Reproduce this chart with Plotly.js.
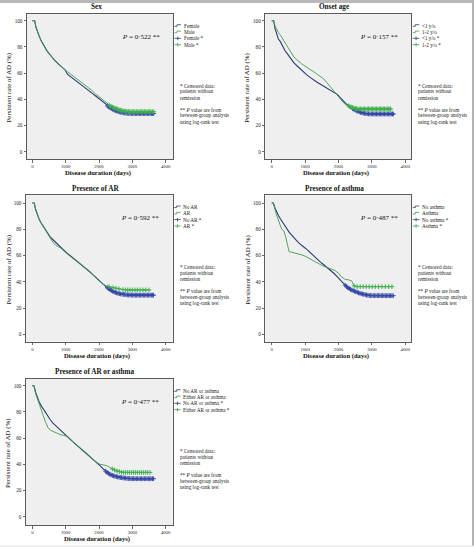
<!DOCTYPE html>
<html><head><meta charset="utf-8">
<script src="https://cdn.plot.ly/plotly-3.0.1.min.js"></script>
<style>html,body{margin:0;padding:0;background:#fff}#chart{width:474px;height:547px}</style>
</head><body><div id="chart"></div>
<script>
// ---------------- DATA ----------------
const panelTitles = ['Sex', 'Onset age', 'Presence of AR', 'Presence of asthma', 'Presence of AR or asthma'];
const groupNames = [['Female', 'Male'], ['&lt;1 y/o', '1-2 y/o'], ['No AR', 'AR'], ['No asthma', 'Asthma'], ['No AR or asthma', 'Either AR or asthma']];
const pValues = ['0·522', '0·157', '0·592', '0·487', '0·477'];
const xTicks = [0, 1000, 2000, 3000, 4000];
const yTicks = [0, 20, 40, 60, 80, 100];
const noteLines1 = ['* Censored data:', 'patients without', 'remission'];
const noteLines2 = ['** <i>P</i> value are from', 'between-group analysis', 'using log-rank test'];

// Panel 1: Sex
const sexFemaleX = [0,70,110,160,210,260,320,380,440,500,580,660,740,820,900,980,1060,1140,1220,1300,1400,1500,1600,1700,1800,1900,2000,2100,2200,2300,2400,2500,2600,2700,2800,2900,3000,3640];
const sexFemaleY = [100,100,95,91,88,85,82,79,77,75,72,70,68,66,64,62.5,59,57.5,56,54.5,52.5,50.5,48.5,46.5,44.5,42.5,40.5,38.5,36,34,32.5,31.2,30.4,29.8,29.4,29.2,29.1,29.1];
const sexMaleX = [0,70,110,160,210,260,320,380,440,500,580,660,740,820,900,980,1060,1140,1220,1300,1400,1500,1600,1700,1800,1900,2000,2100,2200,2300,2400,2500,2600,2700,2800,2900,3000,3640];
const sexMaleY = [100,100,95,91,88,85,82,79,77,75,72,70,68,66,64,62.5,61,59.5,58,56.5,54.5,52.5,50.5,48.5,46.5,44,42,40,37.5,35.5,34,33,32,31.2,30.8,30.6,30.5,30.5];
const sexFemaleCens = [2250,2290,2330,2370,2410,2450,2490,2530,2570,2610,2650,2690,2730,2770,2810,2850,2890,2930,2970,3010,3050,3090,3130,3170,3210,3250,3290,3330,3370,3410,3450,3490,3530,3570,3610,3640];
const sexMaleCens = [2320,2360,2400,2440,2480,2520,2560,2600,2640,2680,2720,2760,2800,2840,2880,2920,2960,3000,3040,3080,3120,3160,3200,3240,3280,3320,3360,3400,3440,3480,3520,3560,3600,3640];

// Panel 2: Onset age
const ageLt1X = [0,60,100,150,200,260,330,400,460,530,600,660,740,820,900,960,1060,1160,1260,1360,1460,1560,1660,1760,1860,1960,2060,2160,2260,2360,2460,2560,2660,2760,2860,2960,3640];
const ageLt1Y = [100,100,94,89,86,84,80,77,75,72.5,70,68,66,64,62.5,61,58.5,56.5,54.5,53,51.5,50,48.5,47,45.5,43.8,41,38.2,35.8,33.8,32.3,31,30,29.3,29,28.8,28.8];
const age12X = [0,60,100,150,200,260,330,400,460,530,600,660,740,820,900,960,1060,1160,1260,1360,1460,1560,1660,1760,1860,1960,2060,2160,2260,2360,2460,2560,3560];
const age12Y = [100,100,96,93,91,89,86,83,80,77,74.5,72.5,70.5,68.5,67,66,64,62.5,61,59,57.5,55.5,52.5,49.5,46.5,43.5,40,37,35.5,34.2,33.3,32.6,32.6];
const ageLt1Cens = [2420,2460,2500,2540,2580,2620,2660,2700,2740,2780,2820,2860,2900,2940,2980,3020,3060,3100,3140,3180,3220,3260,3300,3340,3380,3420,3460,3500,3540,3580,3620,3640];
const age12Cens = [2300,2340,2380,2420,2460,2500,2540,2580,2620,2660,2700,2740,2780,2820,2860,2900,2940,2980,3020,3060,3100,3140,3180,3220,3260,3300,3340,3380,3420,3460,3500,3540,3560];

// Panel 3: Presence of AR
const arNoX = [0,60,100,150,200,260,330,400,470,540,620,700,780,860,940,1030,1130,1230,1330,1430,1530,1630,1730,1830,1930,2030,2130,2230,2330,2430,2530,2630,2730,2830,2930,3030,3630];
const arNoY = [100,100,95,91,88,85,82,79,76.5,74,72,70,68,66,64,62,60,58,56,54,52,50,47.5,45,42.5,40,37.8,35.8,34,32.5,31.5,30.8,30.4,30.1,29.9,29.8,29.8];
const arYesX = [0,60,100,150,200,260,330,400,470,540,620,700,780,860,940,1030,1130,1230,1330,1430,1530,1630,1730,1830,1930,2030,2130,2230,2330,2430,2530,2630,2730,2830,3500];
const arYesY = [100,100,95,91,88,85,82,79,76,73,70,68,67,65.5,63.5,61.5,59.5,57.5,55.5,53.5,51.5,49.5,47.5,45,42.5,40,38,36.8,36,35.5,35,34.5,34,33.8,33.8];
const arNoCens = [2250,2290,2330,2370,2410,2450,2490,2530,2570,2610,2650,2690,2730,2770,2810,2850,2890,2930,2970,3010,3050,3090,3130,3170,3210,3250,3290,3330,3370,3410,3450,3490,3530,3570,3610,3630];
const arYesCens = [2300,2420,2510,2600,2720,2790,2860,2930,3000,3080,3150,3230,3320,3400,3500];

// Panel 4: Presence of asthma
const asNoX = [0,50,100,150,200,260,330,400,460,530,600,660,740,820,900,960,1060,1160,1260,1360,1460,1560,1660,1760,1860,1960,2060,2160,2260,2360,2460,2560,2660,2760,2860,2960,3640];
const asNoY = [100,100,96,93,90.5,88,85,82.5,80,77.5,75.5,73.5,71.5,69.5,67.5,66.5,64.5,62,59.5,57.5,55,53,51,48.5,46.5,44,41.5,38.5,35.8,34.2,33,32,31,30.4,29.8,29.5,29.4];
const asYesX = [0,50,120,180,240,300,360,420,480,520,600,700,800,900,1000,1100,1200,1300,1400,1500,1600,1700,1800,1900,2000,2100,2200,2300,2400,2460,2520,3600];
const asYesY = [100,100,93,88,84,80,79,74,68,63,62.5,62,61.5,60.5,59.5,58,56.5,55.5,54,52.5,51.5,50.5,49.5,48.5,46.5,43.5,41.8,41.5,40.5,37,36.3,36.3];
const asNoCens = [2200,2240,2280,2320,2360,2400,2440,2480,2520,2560,2600,2640,2680,2720,2760,2800,2840,2880,2920,2960,3000,3040,3080,3120,3160,3200,3240,3280,3320,3360,3400,3440,3480,3520,3560,3600,3640];
const asYesCens = [2470,2560,2650,2740,2830,2920,3010,3100,3200,3300,3400,3500,3600];

// Panel 5: Presence of AR or asthma
const anyNoX = [0,50,100,150,200,260,330,400,470,540,620,700,780,860,940,1030,1130,1230,1330,1430,1530,1630,1730,1830,1930,2030,2130,2230,2330,2430,2530,2630,2730,2830,2930,3030,3630];
const anyNoY = [100,100,95,91,88,85,82,79,76,74,71.5,69.5,67.5,65.5,63.8,62,59.5,57,54.7,52.5,50.5,48.3,46,43.7,41.5,39,36.4,34,32.3,31.2,30.5,30,29.6,29.3,29.1,29,29];
const anyYesX = [0,50,100,150,200,260,330,400,470,540,620,700,780,860,940,1030,1130,1230,1330,1430,1530,1630,1730,1830,1930,2030,2130,2230,2330,2430,2530,2630,2730,3530];
const anyYesY = [100,100,94,90,87,82,77,72,68,66,65,64,63,62.5,62,61.5,59,57,55,53,51,48.5,46,43.5,41.5,40,39.5,39,37.5,36,35,34.3,33.8,33.8];
const anyNoCens = [2200,2240,2280,2320,2360,2400,2440,2480,2520,2560,2600,2640,2680,2720,2760,2800,2840,2880,2920,2960,3000,3040,3080,3120,3160,3200,3240,3280,3320,3360,3400,3440,3480,3520,3560,3600,3630];
const anyYesCens = [2400,2470,2540,2610,2680,2740,2800,2860,2920,2980,3040,3100,3160,3220,3280,3340,3400,3460,3530];

const curvesX = [[sexFemaleX, sexMaleX], [ageLt1X, age12X], [arNoX, arYesX], [asNoX, asYesX], [anyNoX, anyYesX]];
const curvesY = [[sexFemaleY, sexMaleY], [ageLt1Y, age12Y], [arNoY, arYesY], [asNoY, asYesY], [anyNoY, anyYesY]];
const censTimes = [[sexFemaleCens, sexMaleCens], [ageLt1Cens, age12Cens], [arNoCens, arYesCens], [asNoCens, asYesCens], [anyNoCens, anyYesCens]];

// ---------------- STYLE / LAYOUT ----------------
const W = 474, H = 547;
const lineColors = ['#2a3b74', '#3f9d4d'];
const markColors = ['#3548a8', '#3fb04d'];
const serif = 'Liberation Serif, Times New Roman, serif';
const frames = [
  {l:27, r:173, t:14, b:159, x0:32.3, x4:165.7, y100:20.7, y0:151.7},
  {l:265.3, r:411.3, t:14, b:159, x0:271.7, x4:405.3, y100:20.7, y0:151.7},
  {l:26, r:172.7, t:195.3, b:341.7, x0:32.3, x4:165.7, y100:203, y0:334.3},
  {l:265.3, r:411.3, t:195.3, b:341.7, x0:271.7, x4:405.3, y100:203, y0:334.3},
  {l:26, r:172.7, t:379, b:525, x0:32.3, x4:165.7, y100:385.7, y0:516.7}
];
const px = v => v / W;
const py = v => 1 - v / H;

function stepAt(xs, ys, t) {
  // linear interpolation along the drawn curve so censor marks sit on it
  for (let i = 1; i < xs.length; i++) {
    if (t <= xs[i]) { const f = (t - xs[i-1]) / (xs[i] - xs[i-1]); return ys[i-1] + f * (ys[i] - ys[i-1]); }
  }
  return ys[ys.length - 1];
}

const traces = [];
const layout = {
  width: W, height: H, margin: {l:0, r:0, t:0, b:0},
  paper_bgcolor: '#ffffff', plot_bgcolor: '#efefef',
  showlegend: false, annotations: [], shapes: [],
  font: {family: serif, color: '#222'}
};

frames.forEach((f, i) => {
  const n = i === 0 ? '' : String(i + 1);
  const xr = [(f.l - f.x0) / (f.x4 - f.x0) * 4000, (f.r - f.x0) / (f.x4 - f.x0) * 4000];
  const yr = [(f.y0 - f.b) / (f.y0 - f.y100) * 100, (f.y0 - f.t) / (f.y0 - f.y100) * 100];
  const common = {showline: true, mirror: true, linecolor: '#5a5a5a', linewidth: 1,
    ticks: 'outside', ticklen: 2.5, tickwidth: 0.8, tickcolor: '#444',
    showgrid: false, zeroline: false, fixedrange: true};
  layout['xaxis' + n] = Object.assign({}, common, {domain: [px(f.l), px(f.r)], range: xr,
    tickvals: xTicks, ticktext: xTicks.map(String), anchor: 'y' + n,
    tickfont: {family: serif, size: 4.7, color: '#222'}});
  layout['yaxis' + n] = Object.assign({}, common, {domain: [py(f.b), py(f.t)], range: yr,
    tickvals: yTicks, ticktext: yTicks.map(String), anchor: 'x' + n,
    tickfont: {family: serif, size: 5.2, color: '#222'}});

  for (let g = 0; g < 2; g++) {
    traces.push({type: 'scatter', mode: 'lines', x: curvesX[i][g], y: curvesY[i][g],
      line: {shape: 'linear', color: lineColors[g], width: g === 0 ? 1.1 : 0.9},
      xaxis: 'x' + n, yaxis: 'y' + n, hoverinfo: 'skip'});
  }
  for (let g = 0; g < 2; g++) {
    const ct = censTimes[i][g];
    traces.push({type: 'scatter', mode: 'markers', x: ct,
      y: ct.map(t => stepAt(curvesX[i][g], curvesY[i][g], t)),
      marker: {symbol: 'cross-thin', size: 3.4, color: markColors[g], line: {width: 1, color: markColors[g]}},
      xaxis: 'x' + n, yaxis: 'y' + n, hoverinfo: 'skip'});
  }

  const A = layout.annotations, S = layout.shapes;
  A.push({text: '<b>' + panelTitles[i] + '</b>', x: px(f.l + 69), y: py(f.t - 6.8), xref: 'paper', yref: 'paper',
    xanchor: 'center', yanchor: 'middle', showarrow: false, font: {family: serif, size: 7.2, color: '#111'}});
  A.push({text: '<b>Disease duration (days)</b>', x: px(f.l + 71), y: py(f.b + 14), xref: 'paper', yref: 'paper',
    xanchor: 'center', yanchor: 'middle', showarrow: false, font: {family: serif, size: 6.6, color: '#111'}});
  A.push({text: 'Persistent rate of AD (%)', x: px(f.l - 18), y: py((f.t + f.b) / 2 + 1), xref: 'paper', yref: 'paper',
    xanchor: 'center', yanchor: 'middle', textangle: -90, showarrow: false, font: {family: serif, size: 6.9, color: '#111'}});
  A.push({text: '<i>P</i> = ' + pValues[i] + ' **', x: px(f.l + 114), y: py(f.t + 23), xref: 'paper', yref: 'paper',
    xanchor: 'center', yanchor: 'middle', showarrow: false, font: {family: serif, size: 7, color: '#111'}});
  const labels = [groupNames[i][0], groupNames[i][1], groupNames[i][0] + ' *', groupNames[i][1] + ' *'];
  labels.forEach((lab, k) => {
    const yy = f.t + 11.5 + k * 6.4;
    const col = lineColors[k % 2];
    A.push({text: lab, x: px(f.r + 8.6), y: py(yy), xref: 'paper', yref: 'paper', xanchor: 'left', yanchor: 'middle',
      showarrow: false, font: {family: serif, size: 5.2, color: '#222'}});
    const xa = f.r + 1.5, xb = f.r + 8;
    if (k < 2) {
      S.push({type: 'path', xref: 'paper', yref: 'paper',
        path: 'M' + px(xa) + ',' + py(yy + 0.8) + ' L' + px(xa + 2.5) + ',' + py(yy + 0.8) + ' L' + px(xa + 2.5) + ',' + py(yy - 0.8) + ' L' + px(xb) + ',' + py(yy - 0.8),
        line: {color: col, width: 0.8}});
    } else {
      S.push({type: 'line', xref: 'paper', yref: 'paper', x0: px(xa), x1: px(xb), y0: py(yy), y1: py(yy),
        line: {color: col, width: 0.8}});
      S.push({type: 'line', xref: 'paper', yref: 'paper', x0: px((xa + xb) / 2), x1: px((xa + xb) / 2), y0: py(yy - 1.8), y1: py(yy + 1.8),
        line: {color: col, width: 0.8}});
    }
  });
  noteLines1.forEach((t, k) => A.push({text: t, x: px(f.r + 5), y: py(f.t + 71.5 + k * 6), xref: 'paper', yref: 'paper',
    xanchor: 'left', yanchor: 'middle', showarrow: false, font: {family: serif, size: 5.2, color: '#222'}}));
  noteLines2.forEach((t, k) => A.push({text: t, x: px(f.r + 5), y: py(f.t + 95.5 + k * 6), xref: 'paper', yref: 'paper',
    xanchor: 'left', yanchor: 'middle', showarrow: false, font: {family: serif, size: 5.2, color: '#222'}}));
});

layout.shapes.push({type: 'rect', xref: 'paper', yref: 'paper', x0: 0, x1: 1, y0: py(3), y1: 1, fillcolor: '#b8b8b8', line: {width: 0}, layer: 'above'});
layout.shapes.push({type: 'rect', xref: 'paper', yref: 'paper', x0: px(472), x1: 1, y0: 0, y1: 1, fillcolor: '#b3b3b3', line: {width: 0}, layer: 'above'});
layout.shapes.push({type: 'rect', xref: 'paper', yref: 'paper', x0: 0, x1: 1, y0: 0, y1: py(545.5), fillcolor: '#ececec', line: {width: 0}, layer: 'above'});

Plotly.newPlot('chart', traces, layout, {displayModeBar: false, staticPlot: true});
</script>
</body></html>
